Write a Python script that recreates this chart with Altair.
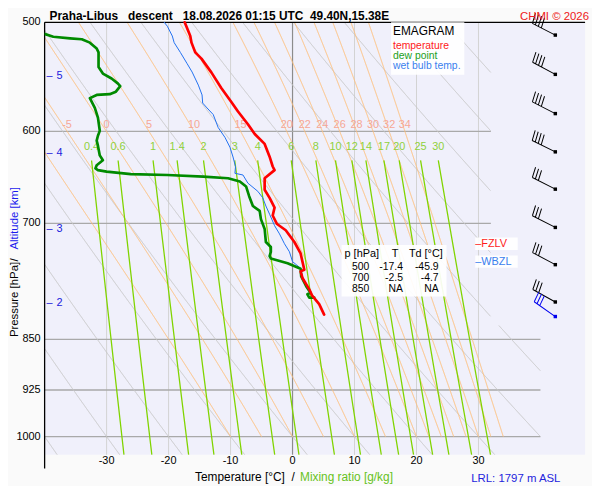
import numpy as np
import pandas as pd
import altair as alt

FONT = "Liberation Sans"

# ---------------- sounding profiles ----------------
temp_p = [500, 511.6, 517.3, 525.8, 531.3, 543.7, 558.1, 571.1, 580.5, 593.0, 602.8,
          612.8, 626.0, 636.4, 640.3, 649.0, 661.6, 670.7, 681.8, 690.8, 700.7, 708.0,
          722.1, 736.1, 756.4, 758.5, 766.9, 781.6, 790.3, 801.1, 815.3]
temp_T = [-17.4, -16.5, -16.3, -15.7, -14.7, -13.1, -11.5, -9.9, -8.8, -7.2, -6.1,
          -4.5, -3.7, -3.2, -2.9, -4.5, -4.5, -3.7, -2.9, -3.2, -2.5, -1.1,
          0.3, 1.3, 1.9, 1.3, 1.6, 2.7, 3.2, 4.3, 5.1]

dew_p = [500, 512.2, 513.6, 514.4, 517.3, 522.4, 525.8, 538.9, 544.8, 549.3, 553.8,
         556.3, 561.5, 563.9, 564.6, 567.6, 577.0, 586.5, 599.6, 604.5, 609.5, 614.6,
         624.7, 629.8, 635.0, 638.5, 640.3, 641.9, 644.5, 645.5, 647.2, 649.0, 652.6,
         658.0, 668.8, 679.9, 685.5, 695.0, 706.5, 722.1, 728.1, 734.0, 739.3, 742.2,
         748.3, 755.2, 764.8, 777.5, 786.1, 788.1, 792.5, 792.5]
dew_T = [-45.9, -38.6, -35.9, -34.0, -32.7, -31.6, -31.3, -31.3, -30.6, -29.2, -28.2,
         -27.8, -28.5, -29.5, -31.6, -32.7, -31.9, -31.4, -31.1, -31.4, -31.6, -31.4,
         -31.1, -30.6, -31.6, -31.8, -31.4, -30.0, -26.1, -20.2, -14.4, -10.4, -8.5,
         -7.5, -7.0, -6.4, -5.3, -5.1, -4.5, -4.3, -3.5, -3.5, -3.7, -3.5,
         -0.8, 1.3, 1.4, 2.2, 2.9, 2.4, 2.7, 3.5]

wb_p = [500, 503.3, 511.6, 517.3, 525.8, 535.9, 543.4, 555.4, 564.6, 572.3, 577.0,
        583.4, 596.2, 606.2, 616.2, 626.4, 636.7, 643.7, 645.5, 654.4, 663.4, 670.7,
        679.9, 689.3, 702.6, 712.4, 724.2, 734.0, 746.2, 754.5, 766.9, 783.9, 790.3]
wb_T = [-20.7, -20.2, -19.4, -19.1, -18.1, -17.0, -16.2, -15.2, -14.6, -14.5, -13.8,
        -12.8, -12.0, -10.9, -10.1, -9.6, -9.2, -9.3, -8.0, -7.2, -5.6, -4.8,
        -4.3, -3.7, -2.9, -2.1, -1.3, -0.5, 0.0, 1.3, 1.6, 2.7, 3.2]

# ---------------- diagram families / labels ----------------
x_ticks = [-30, -20, -10, 0, 10, 20, 30]
grid_T = [-30, -20, -10, 10, 20, 30]
iso_p = [600, 700, 850, 925, 1000]
iso_Tend = [32, 32, 40, 40, 40]
y_ticks = [500, 600, 700, 850, 925, 1000]
dry_theta = [-40, -30, -20, -10, 0, 10, 20, 30, 40, 50, 60, 70, 80, 90]
moist_thw = [-10, -5, 0, 5, 10, 15, 20, 22, 24, 26, 28, 30, 32, 34]
moist_lab = [-5, 0, 5, 10, 15, 20, 22, 24, 26, 28, 30, 32, 34]
mix_w = [0.4, 0.6, 1, 1.4, 2, 3, 4, 6, 8, 10, 12, 14, 17, 20, 25, 30]
mix_lab = ["0.4", "0.6", "1", "1.4", "2", "3", "4", "6", "8", "10", "12", "14",
           "17", "20", "25", "30"]
alt_km = ["5", "4", "3", "2"]
alt_p = [547.0, 622.3, 706.7, 800.3]

wind_p = [510.8, 545.5, 582.5, 621.0, 661.0, 704.7, 750.0, 798.3, 818.0]
wind_dir = [297, 298, 297, 296, 297, 297, 298, 299, 305]
wind_n = [4, 4, 4, 4, 3, 3, 3, 3, 3]
wind_col = ["#000000"] * 8 + ["#0000ee"]
WIND_T = 42.4

table_p = ["500", "700", "850"]
table_T = ["-17.4", "-2.5", "NA"]
table_Td = ["-45.9", "-4.7", "NA"]
fzlv_p = 724.5
wbzl_p = 746.5

title_txt = "Praha-Libus\u00a0\u00a0 descent\u00a0\u00a0 18.08.2026 01:15 UTC\u00a0 49.40N,15.38E"

# ---------------- layout ----------------
OX, OY = 45, 20          # page position of plot origin
W, H = 546, 457 - OY
P_TOP, P_BOT = 500, 1031
P_SPLIT = 830

XS = alt.Scale(domain=[-40, 47.2], nice=False, zero=False)
YS = alt.Scale(type="log", domain=[P_TOP, P_BOT], reverse=True, nice=False)


def X(f):
    return alt.X(f, scale=XS, axis=None)


def Y(f):
    return alt.Y(f, scale=YS, axis=None)


# ---------------- thermodynamics for diagram lines ----------------
def es(tc):
    return 6.112 * np.exp(17.67 * tc / (tc + 243.5))


def theta_e(tc, p):
    e = es(tc)
    w = 0.622 * e / (p - e)
    tk = tc + 273.15
    return tk * (1000.0 / p) ** 0.2857 * np.exp(2.501e6 * w / (1004.0 * tk))


def moist_T(thw, ps):
    ps = np.asarray(ps, dtype=float)
    target = theta_e(thw, 1000.0)
    lo = np.full_like(ps, -100.0)
    hi = np.full_like(ps, 60.0)
    for _ in range(60):
        mid = 0.5 * (lo + hi)
        big = theta_e(mid, ps) > target
        hi = np.where(big, mid, hi)
        lo = np.where(big, lo, mid)
    return 0.5 * (lo + hi)


def dry_T(theta, ps):
    return (theta + 273.15) * (ps / 1000.0) ** 0.2857 - 273.15


def mix_T(w, ps):
    e = w * ps / (622.0 + w)
    g = np.log(e / 6.112)
    return 243.5 * g / (17.67 - g)


def family(keys, func, pmin, pmax, n=700):
    rows = []
    seg = 0
    ps = np.exp(np.linspace(np.log(pmin), np.log(pmax), n))
    tmax = np.where(ps < P_SPLIT, 32.0, 40.0)
    for k in keys:
        ts = func(k, ps)
        ok = (ts <= tmax) & (ts >= -50)
        prev = False
        for i in range(n):
            if ok[i]:
                if not prev:
                    seg += 1
                rows.append({"seg": seg, "i": i, "p": ps[i], "T": ts[i]})
            prev = ok[i]
    return pd.DataFrame(rows)


dry_df = family(dry_theta, dry_T, P_TOP, P_BOT)
moist_df = family(moist_thw, moist_T, P_TOP, 1000)
mix_df = family(mix_w, mix_T, 630, P_BOT)


def fam_layer(df, color, width):
    return alt.Chart(df).mark_line(color=color, strokeWidth=width, clip=True).encode(
        x=X("T:Q"), y=Y("p:Q"), detail="seg:N", order="i:Q")


# ---------------- grid ----------------
vgrid = alt.Chart(pd.DataFrame({"T": grid_T, "p": [P_TOP] * 6, "p2": [P_BOT] * 6})).mark_rule(
    color="#d2d2d2", strokeWidth=1).encode(x=X("T:Q"), y=Y("p:Q"), y2="p2:Q")
zline = alt.Chart(pd.DataFrame({"T": [0], "p": [P_TOP], "p2": [P_BOT]})).mark_rule(
    color="#8c8c8c", strokeWidth=1.2).encode(x=X("T:Q"), y=Y("p:Q"), y2="p2:Q")
hgrid = alt.Chart(pd.DataFrame({"p": iso_p, "T0": [-40] * 5, "T1": iso_Tend})).mark_rule(
    color="#a9a9a9", strokeWidth=1.3).encode(y=Y("p:Q"), x=X("T0:Q"), x2="T1:Q")
top_border = alt.Chart(pd.DataFrame({"p": [P_TOP], "T0": [-40], "T1": [47.2]})).mark_rule(
    color="#000000", strokeWidth=1.3).encode(y=Y("p:Q"), x=X("T0:Q"), x2="T1:Q")
left_border = alt.Chart(pd.DataFrame({"T": [-40], "p": [P_TOP], "p2": [1055]})).mark_rule(
    color="#000000", strokeWidth=1.3).encode(x=X("T:Q"), y=Y("p:Q"), y2="p2:Q")

# axis tick labels
ylab = alt.Chart(pd.DataFrame({"p": y_ticks, "s": [str(v) for v in y_ticks]})).mark_text(
    align="right", baseline="middle", fontSize=11, font=FONT, color="#000000").encode(
    y=Y("p:Q"), x=alt.value(-4), text="s:N")
xlab = alt.Chart(pd.DataFrame({"T": x_ticks, "p": [P_BOT] * len(x_ticks),
                               "s": [str(v) for v in x_ticks]})).mark_text(
    align="center", baseline="middle", fontSize=11, font=FONT, color="#000000", dy=6).encode(
    x=X("T:Q"), y=Y("p:Q"), text="s:N")

# labels of moist adiabats (at 600 hPa) and mixing ratio lines
ml_df = pd.DataFrame({"T": [float(moist_T(v, np.array([600.0]))[0]) for v in moist_lab],
                      "p": [600.0] * len(moist_lab), "s": [str(v) for v in moist_lab]})
moist_lbl = alt.Chart(ml_df).mark_text(fontSize=11, font=FONT, color="#f6a796", baseline="middle",
                                       dy=-6).encode(x=X("T:Q"), y=Y("p:Q"), text="s:N")
wl_df = pd.DataFrame({"T": [float(mix_T(w, np.array([630.0]))[0]) for w in mix_w],
                      "p": [630.0] * len(mix_w), "s": mix_lab})
mix_lbl = alt.Chart(wl_df).mark_text(fontSize=11, font=FONT, color="#8fd13a", baseline="middle",
                                     dy=-14).encode(x=X("T:Q"), y=Y("p:Q"), text="s:N")

# altitude markers
alt_df = pd.DataFrame({"p": alt_p, "s": alt_km})
alt_dash = alt.Chart(alt_df).mark_text(fontSize=11, font=FONT, color="#2020dd", align="center",
                                       baseline="middle", text="\u2013").encode(
    y=Y("p:Q"), x=alt.value(5))
alt_num = alt.Chart(alt_df).mark_text(fontSize=11, font=FONT, color="#2020dd", align="left",
                                      baseline="middle").encode(
    y=Y("p:Q"), x=alt.value(12), text="s:N")


# ---------------- profiles ----------------
def profile(ps, ts, color, width, clip=False):
    df = pd.DataFrame({"p": ps, "T": ts, "i": range(len(ps))})
    return alt.Chart(df).mark_line(color=color, strokeWidth=width, strokeJoin="round",
                                   strokeCap="round", clip=clip).encode(
        x=X("T:Q"), y=Y("p:Q"), order="i:Q")


t_line = profile(temp_p, temp_T, "#ff0000", 2.7)
d_line = profile(dew_p, dew_T, "#008a00", 2.7, clip=True)
w_line = profile(wb_p, wb_T, "#2070f0", 1.0)


# ---------------- wind barbs ----------------
def barb_path(n):
    s = "M0,0L0,-1"
    for k in range(n):
        y0 = -1 + 0.13 * k
        s += f"M0,{y0:.2f}L0.41,{y0 - 0.07:.2f}"
    return s


wind_df = pd.DataFrame({"p": wind_p, "T": [WIND_T] * len(wind_p), "dir": wind_dir,
                        "path": [barb_path(n) for n in wind_n], "col": wind_col})
barbs = alt.Chart(wind_df).mark_point(filled=False, strokeWidth=1, opacity=1, size=2704).encode(
    x=X("T:Q"), y=Y("p:Q"), shape=alt.Shape("path:N", scale=None),
    angle=alt.Angle("dir:Q", scale=None), color=alt.Color("col:N", scale=None))
barb_dots = alt.Chart(wind_df).mark_square(filled=True, opacity=1, size=12).encode(
    x=X("T:Q"), y=Y("p:Q"), color=alt.Color("col:N", scale=None))


# ---------------- annotations ----------------
def ptext(s, px, py, size=11, color="#000000", align="left", weight="normal", angle=0,
          baseline="middle"):
    kw = dict(align=align, baseline=baseline, fontSize=size, color=color, font=FONT,
              fontWeight=weight)
    if angle:
        kw["angle"] = angle
    return alt.Chart(pd.DataFrame({"s": [s]})).mark_text(**kw).encode(
        x=alt.value(px - OX), y=alt.value(py - OY), text="s:N")


def prect(x1, y1, x2, y2, color="#ffffff", opacity=0.92):
    return alt.Chart(pd.DataFrame({"a": [0]})).mark_rect(color=color, opacity=opacity).encode(
        x=alt.value(x1 - OX), x2=alt.value(x2 - OX), y=alt.value(y1 - OY), y2=alt.value(y2 - OY))


def level_box(p):
    df = pd.DataFrame({"p1": [p * np.exp(-6.5 / 604.0)], "p2": [p * np.exp(6.0 / 604.0)]})
    return alt.Chart(df).mark_rect(color="#ffffff", opacity=0.9).encode(
        y=Y("p1:Q"), y2="p2:Q", x=alt.value(480 - OX), x2=alt.value(523 - OX))


def level_text(p, s, color):
    return alt.Chart(pd.DataFrame({"p": [p], "s": [s]})).mark_text(
        align="left", baseline="middle", fontSize=11, font=FONT, color=color).encode(
        y=Y("p:Q"), x=alt.value(480 - OX), text="s:N")


annos = [
    prect(395, OY, 469, 73),
    ptext("EMAGRAM", 397, 29, size=12),
    ptext("temperature", 397, 44, size=10.5, color="#ff1a1a"),
    ptext("dew point", 397, 54, size=10.5, color="#22a022"),
    ptext("wet bulb temp.", 397, 64, size=10.5, color="#3a80ee"),
    prect(345, 245, 451, 297),
    ptext("p [hPa]", 348, 254, size=11),
    ptext("T", 399, 254, size=11, align="center"),
    ptext("Td [\u00b0C]", 413, 254, size=11),
    level_box(fzlv_p), level_text(fzlv_p, "\u2013FZLV", "#ff1a1a"),
    level_box(wbzl_p), level_text(wbzl_p, "\u2013WBZL", "#3a80ee"),
    ptext(title_txt, 50, 17.5, size=12, weight="bold", baseline="alphabetic"),
    ptext("CHMI \u00a9 2026", 595, 17.5, size=11.5, color="#ee2020", align="right",
          baseline="alphabetic"),
    ptext("Temperature [\u00b0C]\u00a0 /", 197, 479, size=12),
    ptext("Mixing ratio [g/kg]", 303, 479, size=12, color="#66c21a"),
    ptext("LRL: 1797 m ASL", 476, 481, size=11.5, color="#2424dd"),
    ptext("Pressure [hPa]", 15, 300, size=11.5, angle=270, align="center"),
    ptext("/", 15, 260, size=11.5, angle=270, align="center"),
    ptext("Altitude [km]", 15, 218, size=11.5, color="#1a1aee", angle=270, align="center"),
]
for i in range(3):
    yy = 267 + 11 * i
    annos.append(ptext(table_p[i], 373, yy, size=10.5, align="right"))
    annos.append(ptext(table_T[i], 407, yy, size=10.5, align="right"))
    annos.append(ptext(table_Td[i], 443, yy, size=10.5, align="right"))

chart = alt.layer(
    vgrid, zline, hgrid,
    fam_layer(dry_df, "#c8c8c8", 1.0),
    fam_layer(moist_df, "#ffbf7a", 1.0),
    fam_layer(mix_df, "#80d400", 1.3),
    moist_lbl, mix_lbl, alt_dash, alt_num, ylab, xlab,
    top_border, left_border,
    *annos[:13],
    w_line, d_line, t_line,
    barbs, barb_dots,
    *annos[13:],
).properties(
    width=W, height=H, autosize="none",
    padding={"left": OX - 8, "top": OY - 8, "right": 7, "bottom": 29},
    background="#fafafa",
).configure_view(fill="#f0f0fb", stroke=None)

chart.save("out.html", embed_options={"renderer": "svg", "actions": False})
